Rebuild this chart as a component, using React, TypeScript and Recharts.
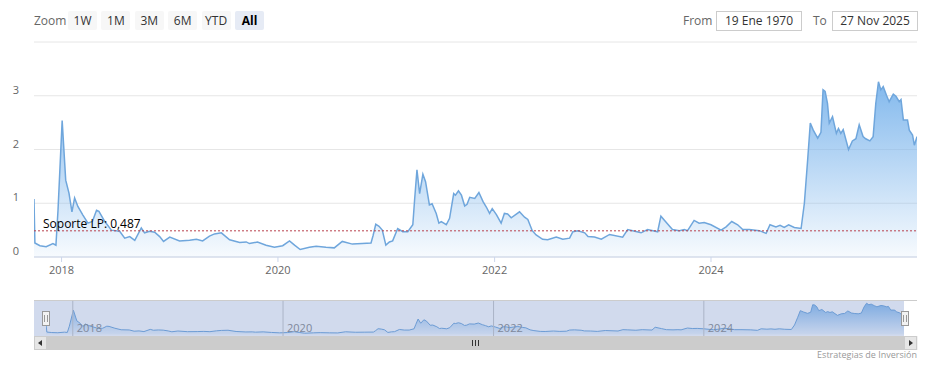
import React from "react"
import { AreaChart, Area, XAxis, YAxis, CartesianGrid, ReferenceLine } from "recharts"

// fechas y valores (uno por línea y año)
const dates = [
  "2017-09-30", "2017-10-03", "2017-10-20", "2017-11-10", "2017-12-03", "2017-12-13", "2017-12-20",
  "2018-01-03", "2018-01-15", "2018-01-26", "2018-02-05", "2018-02-14", "2018-02-25", "2018-03-14", "2018-03-31", "2018-04-15", "2018-04-29", "2018-05-07", "2018-05-27", "2018-06-18", "2018-07-16", "2018-08-02", "2018-08-19", "2018-09-05", "2018-09-27", "2018-10-08", "2018-10-25", "2018-11-11", "2018-11-28", "2018-12-11",
  "2019-01-01", "2019-02-03", "2019-03-09", "2019-04-01", "2019-04-22", "2019-05-15", "2019-06-01", "2019-06-24", "2019-07-22", "2019-08-25", "2019-09-16", "2019-09-27", "2019-10-24", "2019-11-22", "2019-12-20",
  "2020-01-17", "2020-02-09", "2020-02-26", "2020-03-16", "2020-04-16", "2020-05-09", "2020-06-11", "2020-07-09", "2020-08-05", "2020-09-08", "2020-10-11", "2020-11-10", "2020-11-17", "2020-11-26", "2020-12-07", "2020-12-18", "2020-12-30",
  "2021-01-11", "2021-01-22", "2021-02-08", "2021-02-25", "2021-03-14", "2021-03-31", "2021-04-06", "2021-04-14", "2021-04-23", "2021-05-04", "2021-05-13", "2021-05-26", "2021-06-04", "2021-06-18", "2021-06-27", "2021-07-05", "2021-07-22", "2021-08-02", "2021-08-16", "2021-08-22", "2021-09-01", "2021-09-11", "2021-09-22", "2021-09-30", "2021-10-09", "2021-10-26", "2021-11-09", "2021-11-23", "2021-12-04", "2021-12-15", "2021-12-24",
  "2022-01-07", "2022-01-23", "2022-02-03", "2022-02-14", "2022-02-26", "2022-03-26", "2022-04-12", "2022-04-23", "2022-05-08", "2022-05-21", "2022-06-12", "2022-06-29", "2022-07-28", "2022-08-19", "2022-09-11", "2022-09-22", "2022-10-09", "2022-11-01", "2022-11-12", "2022-12-04", "2022-12-27",
  "2023-01-24", "2023-03-09", "2023-03-26", "2023-04-12", "2023-05-10", "2023-06-01", "2023-07-05", "2023-07-16", "2023-08-07", "2023-08-24", "2023-09-16", "2023-10-03", "2023-10-14", "2023-11-05", "2023-11-22", "2023-12-09",
  "2024-01-01", "2024-02-04", "2024-02-21", "2024-03-11", "2024-03-31", "2024-04-17", "2024-05-09", "2024-06-12", "2024-07-05", "2024-07-18", "2024-08-07", "2024-08-21", "2024-09-04", "2024-09-19", "2024-10-08", "2024-10-31", "2024-11-11", "2024-11-22", "2024-12-01", "2024-12-11", "2024-12-26",
  "2025-01-06", "2025-01-13", "2025-01-20", "2025-01-28", "2025-02-03", "2025-02-14", "2025-02-27", "2025-03-06", "2025-03-14", "2025-03-22", "2025-04-09", "2025-04-22", "2025-05-04", "2025-05-15", "2025-05-28", "2025-06-06", "2025-06-20", "2025-07-01", "2025-07-10", "2025-07-19", "2025-07-27", "2025-08-04", "2025-08-15", "2025-08-24", "2025-09-07", "2025-09-16", "2025-09-27", "2025-10-03", "2025-10-11", "2025-10-25", "2025-10-31", "2025-11-11", "2025-11-17", "2025-11-26",
]

const values = [
  1.08, 0.26, 0.21, 0.19, 0.25, 0.22, 0.87,
  2.54, 1.43, 1.19, 0.84, 1.1, 0.94, 0.78, 0.63, 0.66, 0.87, 0.85, 0.66, 0.5, 0.48, 0.35, 0.38, 0.31, 0.54, 0.45, 0.48, 0.46, 0.38, 0.29,
  0.37, 0.3, 0.31, 0.33, 0.3, 0.39, 0.43, 0.45, 0.32, 0.27, 0.28, 0.25, 0.28, 0.22, 0.18,
  0.21, 0.3, 0.22, 0.14, 0.18, 0.2, 0.18, 0.17, 0.29, 0.24, 0.25, 0.26, 0.4, 0.61, 0.57, 0.5, 0.22,
  0.28, 0.3, 0.53, 0.47, 0.47, 0.6, 1.06, 1.62, 1.18, 1.54, 1.4, 0.97, 0.99, 0.81, 0.63, 0.66, 0.6, 0.72, 1.18, 1.15, 1.23, 1.15, 0.95, 0.98, 1.11, 1.09, 1.2, 1.03, 0.93, 0.81, 0.9,
  0.79, 0.63, 0.81, 0.8, 0.73, 0.84, 0.74, 0.7, 0.49, 0.41, 0.33, 0.32, 0.37, 0.33, 0.35, 0.47, 0.49, 0.45, 0.38, 0.37, 0.33,
  0.42, 0.37, 0.51, 0.49, 0.45, 0.51, 0.47, 0.76, 0.62, 0.51, 0.49, 0.51, 0.49, 0.68, 0.63, 0.64,
  0.6, 0.5, 0.56, 0.66, 0.6, 0.51, 0.51, 0.49, 0.44, 0.6, 0.56, 0.59, 0.55, 0.6, 0.55, 0.53, 1.0, 1.8, 2.49, 2.36, 2.21,
  2.32, 3.11, 3.08, 2.86, 2.49, 2.61, 2.3, 2.39, 2.3, 2.37, 2.0, 2.16, 2.2, 2.46, 2.24, 2.2, 2.16, 2.24, 2.86, 3.26, 3.11, 3.17, 3.01, 2.89, 3.03, 2.99, 2.89, 2.93, 2.55, 2.55, 2.36, 2.27, 2.08, 2.24,
]

const yearTicks = ["2018-01-01", "2020-01-01", "2022-01-01", "2024-01-01"]
const yTicks = [0, 1, 2, 3, 4]
const zoomButtons = ["1W", "1M", "3M", "6M", "YTD", "All"]
const soporte = 0.487

const data = dates.map((d, i) => ({ t: Date.parse(d), v: values[i] }))
const tStart = data[0].t
const tEnd = data[data.length - 1].t
const yearTs = yearTicks.map((d) => Date.parse(d))

const font = "'Open Sans', 'DejaVu Sans', sans-serif"
const lineColor = "#6fa6dc"

function YTick(props: any) {
  const { x, y, payload } = props
  if (payload.value === 4) return null
  return (
    <text x={19} y={y - 2} textAnchor="end" fontSize={11} fill="#666" fontFamily={font}>
      {payload.value}
    </text>
  )
}

function SupportLabel(props: any) {
  const { viewBox } = props
  return (
    <text x={viewBox.x + 9} y={viewBox.y - 3} fontSize={12} fill="#000" fontFamily={font}>
      {"Soporte LP: " + String(soporte).replace(".", ",")}
    </text>
  )
}

function NavYearLabel(props: any) {
  const { viewBox, value } = props
  return (
    <text x={viewBox.x + 4} y={viewBox.y + 32} fontSize={11} fill="#8a8a8a" fontFamily={font}>
      {value}
    </text>
  )
}

function Handle({ left }: { left: number }) {
  return (
    <div style={{ position: "absolute", left, top: 311, width: 6, height: 13, background: "#f2f2f2", border: "1px solid #999" }}>
      <div style={{ position: "absolute", left: 1, top: 3, width: 1, height: 7, background: "#999" }} />
      <div style={{ position: "absolute", left: 4, top: 3, width: 1, height: 7, background: "#999" }} />
    </div>
  )
}

export default function App() {
  return (
    <div style={{ position: "absolute", left: 0, top: 0, width: 938, height: 368, background: "#fff", fontFamily: font, overflow: "hidden" }}>
      {/* main chart */}
      <div style={{ position: "absolute", left: 0, top: 0 }}>
        <AreaChart width={938} height={290} data={data} margin={{ top: 42, right: 21, left: 0, bottom: 3 }}>
          <defs>
            <linearGradient id="mainFill" x1="0" y1="0" x2="0" y2="1">
              <stop offset="0" stopColor="#7cb5ec" stopOpacity={0.95} />
              <stop offset="1" stopColor="#7cb5ec" stopOpacity={0.06} />
            </linearGradient>
          </defs>
          <CartesianGrid vertical={false} stroke="#e6e6e6" />
          <XAxis
            dataKey="t"
            type="number"
            domain={[tStart, tEnd]}
            ticks={yearTs}
            tickFormatter={(t) => String(new Date(t).getUTCFullYear())}
            stroke="#ccd6eb"
            tickSize={5}
            tickMargin={4}
            height={30}
            tick={{ fontSize: 11, fill: "#666", fontFamily: font }}
            allowDataOverflow
          />
          <YAxis width={34} domain={[0, 4]} ticks={yTicks} axisLine={false} tickLine={false} tick={<YTick />} />
          <Area
            type="linear"
            dataKey="v"
            stroke={lineColor}
            strokeWidth={1.5}
            fill="url(#mainFill)"
            fillOpacity={1}
            dot={false}
            activeDot={false}
            isAnimationActive={false}
          />
          <ReferenceLine y={soporte} stroke="#b8414d" strokeDasharray="2 2" strokeWidth={1} label={<SupportLabel />} />
        </AreaChart>
      </div>

      {/* range selector */}
      <div style={{ position: "absolute", left: 34, top: 12, fontSize: 12, color: "#666" }}>Zoom</div>
      {zoomButtons.map((b, i) => (
        <div
          key={b}
          style={{
            position: "absolute",
            left: 68 + i * 33.4,
            top: 11,
            width: 29,
            height: 19,
            lineHeight: "19px",
            textAlign: "center",
            fontSize: 12,
            borderRadius: 2,
            background: b === "All" ? "#e6ebf5" : "#f7f7f7",
            color: b === "All" ? "#000" : "#333",
            fontWeight: b === "All" ? 700 : 400,
          }}
        >
          {b}
        </div>
      ))}
      <div style={{ position: "absolute", left: 683, top: 12, fontSize: 12, color: "#666" }}>From</div>
      <div style={{ position: "absolute", left: 716, top: 11, width: 84, height: 18, lineHeight: "18px", border: "1px solid #ccc", textAlign: "center", fontSize: 12, color: "#333" }}>
        19 Ene 1970
      </div>
      <div style={{ position: "absolute", left: 813, top: 12, fontSize: 12, color: "#666" }}>To</div>
      <div style={{ position: "absolute", left: 832, top: 11, width: 84, height: 18, lineHeight: "18px", border: "1px solid #ccc", textAlign: "center", fontSize: 12, color: "#333" }}>
        27 Nov 2025
      </div>

      {/* navigator */}
      <div style={{ position: "absolute", left: 34, top: 300, width: 883, height: 1, background: "#ccc" }} />
      <div style={{ position: "absolute", left: 0, top: 290 }}>
        <AreaChart width={938} height={50} data={data} margin={{ top: 10, right: 34, left: 46, bottom: 4 }}>
          <defs>
            <linearGradient id="navFill" x1="0" y1="0" x2="0" y2="1">
              <stop offset="0" stopColor="#7cb5ec" stopOpacity={0.9} />
              <stop offset="1" stopColor="#7cb5ec" stopOpacity={0.1} />
            </linearGradient>
          </defs>
          <XAxis dataKey="t" type="number" domain={[tStart, tEnd]} hide allowDataOverflow />
          <YAxis domain={[-0.15, 3.6]} hide allowDataOverflow />
          {yearTs.map((t, i) => (
            <ReferenceLine key={t} x={t} stroke="#c8c8c8" label={<NavYearLabel value={yearTicks[i].slice(0, 4)} />} />
          ))}
          <Area
            type="linear"
            dataKey="v"
            stroke={lineColor}
            strokeWidth={1}
            fill="url(#navFill)"
            fillOpacity={1}
            dot={false}
            activeDot={false}
            isAnimationActive={false}
          />
        </AreaChart>
      </div>
      <div style={{ position: "absolute", left: 34, top: 301, width: 870, height: 35, background: "rgba(102,133,194,0.3)" }} />
      <Handle left={42} />
      <Handle left={901} />

      {/* scrollbar */}
      <svg style={{ position: "absolute", left: 34, top: 336 }} width={884} height={14}>
        <rect x={0} y={0} width={884} height={14} fill="#f2f2f2" />
        <rect x={12} y={0} width={858} height={14} fill="#cccccc" />
        <rect x={0.5} y={0.5} width={12} height={13} fill="#e6e6e6" stroke="#cccccc" />
        <rect x={870.5} y={0.5} width={12} height={13} fill="#e6e6e6" stroke="#cccccc" />
        <path d="M8 4 L4 7 L8 10 Z" fill="#333" />
        <path d="M875 4 L879 7 L875 10 Z" fill="#333" />
        <path d="M438.5 4 V10 M441.5 4 V10 M444.5 4 V10" stroke="#333" strokeWidth={1} />
      </svg>

      {/* credits */}
      <div style={{ position: "absolute", right: 21, top: 348, fontSize: 9, color: "#999" }}>Estrategias de Inversión</div>
    </div>
  )
}
